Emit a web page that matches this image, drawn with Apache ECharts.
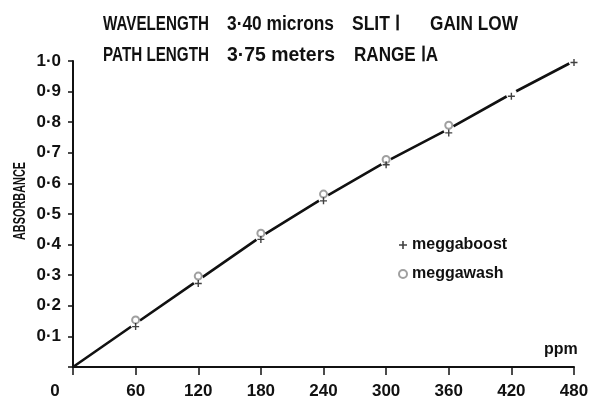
<!DOCTYPE html>
<html>
<head>
<meta charset="utf-8">
<script src="https://cdn.jsdelivr.net/npm/echarts@6/dist/echarts.min.js"></script>
<style>
html,body{margin:0;padding:0;background:#fff;}
#chart{width:592px;height:401px;}
</style>
</head>
<body>
<div id="chart"></div>
<script>
// ---- data ----
const xTicks = [0, 60, 120, 180, 240, 300, 360, 420, 480];
const fitLine = [0, 0.142, 0.284, 0.426, 0.553, 0.671, 0.778, 0.893, 1.0];
const meggaboost = [null, 0.132, 0.273, 0.417, 0.543, 0.661, 0.765, 0.885, 0.995];
const meggawash = [null, 0.154, 0.297, 0.437, 0.565, 0.678, 0.790, null, 1.005];
const titleLine1 = ['WAVELENGTH', '3·40 microns', 'SLIT Ⅰ', 'GAIN LOW'];
const titleLine2 = ['PATH LENGTH', '3·75 meters', 'RANGE ⅠA'];
const yAxisTitle = 'ABSORBANCE';
const xAxisTitle = 'ppm';

const FONT = "'Liberation Sans', Arial, sans-serif";

// layout of the header text pieces: [left, right] in px
const line1Spans = [[103, 209], [227, 334], [352, 400], [430, 518]];
const line2Spans = [[103, 209], [227, 335], [354, 438]];

const measureCanvas = document.createElement('canvas').getContext('2d');
function textWidth(t, size, weight) {
  measureCanvas.font = weight + ' ' + size + 'px ' + FONT;
  return measureCanvas.measureText(t).width;
}
function headerText(t, span, yMid, weight) {
  const size = 20;
  const w = textWidth(t, size, weight);
  return {
    type: 'text', x: span[0], y: yMid, scaleX: (span[1] - span[0]) / w,
    style: {text: t, fontFamily: FONT, fontSize: size, fontWeight: weight, fill: '#111',
      align: 'left', verticalAlign: 'middle'}
  };
}
const graphics = [];
titleLine1.forEach((t, i) => graphics.push(headerText(t, line1Spans[i], 24, 'bold')));
titleLine2.forEach((t, i) => graphics.push(headerText(t, line2Spans[i], 55, 'bold')));
const absW = textWidth(yAxisTitle, 17, 'bold');
graphics.push({
  type: 'text', x: 20, y: 201, rotation: Math.PI / 2, scaleX: 78 / absW,
  style: {text: yAxisTitle, fontFamily: FONT, fontSize: 17, fontWeight: 'bold', fill: '#111',
    align: 'center', verticalAlign: 'middle'}
});

const pair = (arr) => xTicks.map((x, i) => arr[i] == null ? null : [x, arr[i]]).filter(d => d);
const plusPath = 'path://M4,0H6V4H10V6H6V10H4V6H0V4H4Z';

const chart = echarts.init(document.getElementById('chart'));
chart.setOption({
  animation: false,
  backgroundColor: '#fff',
  grid: {left: 73, right: 18, top: 61, bottom: 34},
  legend: {
    orient: 'vertical', left: 393, top: 232, itemGap: 13,
    itemWidth: 8, itemHeight: 8,
    data: ['meggaboost', 'meggawash'],
    textStyle: {fontFamily: FONT, fontSize: 16, fontWeight: 'bold', color: '#111'}
  },
  xAxis: {
    type: 'value', min: 0, max: 480, interval: 60,
    name: xAxisTitle, nameLocation: 'end', nameGap: -30,
    nameTextStyle: {fontFamily: FONT, fontSize: 16, fontWeight: 'bold', color: '#111',
      verticalAlign: 'bottom', padding: [0, 0, 9, 0]},
    axisLine: {lineStyle: {color: '#111', width: 2}},
    axisTick: {length: 8, lineStyle: {color: '#111', width: 1.5}},
    splitLine: {show: false},
    axisLabel: {
      margin: 16, fontFamily: FONT, fontSize: 17, fontWeight: 'bold', color: '#111',
      formatter: v => v === 0 ? '{z|0}' : String(v),
      rich: {z: {fontFamily: FONT, fontSize: 17, fontWeight: 'bold', color: '#111', padding: [0, 36, 0, 0]}}
    }
  },
  yAxis: {
    type: 'value', min: 0, max: 1.0, interval: 0.1,
    axisLine: {show: true, lineStyle: {color: '#111', width: 2}},
    axisTick: {show: true, length: 5, lineStyle: {color: '#111', width: 1.5}},
    splitLine: {show: false},
    axisLabel: {
      margin: 12, fontFamily: FONT, fontSize: 17, fontWeight: 'bold', color: '#111',
      formatter: v => v === 0 ? '' : v.toFixed(1).replace('.', '·')
    }
  },
  graphic: graphics,
  series: [
    {
      name: 'fit', type: 'line', z: 2,
      data: pair(fitLine).map((d, i) => i === 0 ? {value: d, symbolSize: 0} : {value: d}),
      symbol: 'circle', symbolSize: 11, showSymbol: true,
      itemStyle: {color: '#fff', borderWidth: 0},
      lineStyle: {color: '#111', width: 2.6},
      emphasis: {disabled: true}
    },
    {
      name: 'meggaboost', type: 'scatter', z: 4,
      data: pair(meggaboost), symbol: plusPath, symbolSize: 7,
      itemStyle: {color: '#111'}
    },
    {
      name: 'meggawash', type: 'scatter', z: 3,
      data: pair(meggawash), symbol: 'emptyCircle', symbolSize: 7,
      itemStyle: {color: '#888', borderWidth: 1}
    }
  ]
});
</script>
</body>
</html>
